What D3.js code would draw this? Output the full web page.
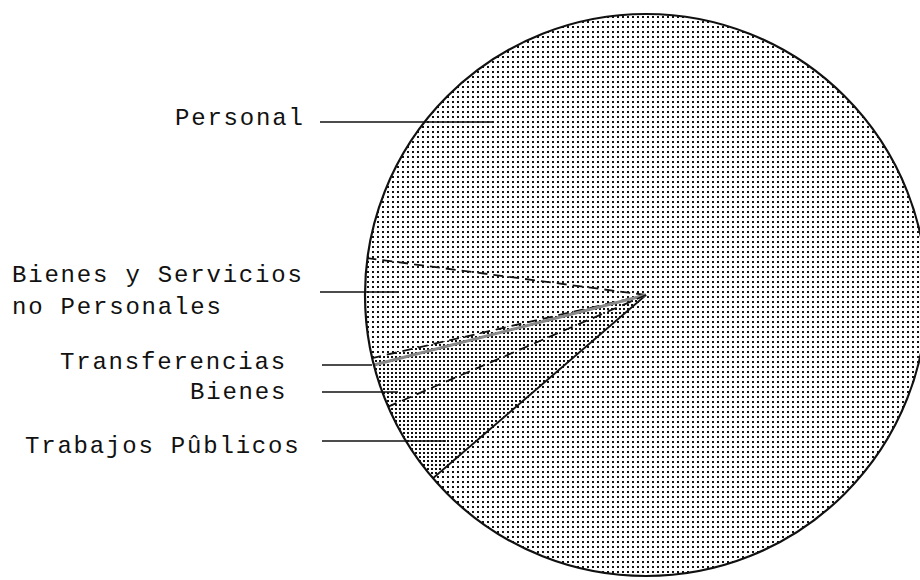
<!DOCTYPE html>
<html>
<head>
<meta charset="utf-8">
<script src="https://cdn.jsdelivr.net/npm/d3@7"></script>
<style>
  body { margin:0; background:#fff; }
  svg { display:block; }
  .lbl { font-family:"Liberation Mono","DejaVu Sans Mono",monospace; font-size:24px; letter-spacing:1.8px; fill:#111; }
</style>
</head>
<body>
<svg id="chart" width="920" height="580"></svg>
<script>
// budget shares (percent)
var categories = ["Personal", "Bienes y Servicios no Personales", "Transferencias", "Bienes", "Trabajos Públicos"];
var values = [86.6, 5.7, 0.4, 2.5, 4.8];
var labelLines = [["Personal"], ["Bienes y Servicios", "no Personales"], ["Transferencias"], ["Bienes"], ["Trabajos Pûblicos"]];

// layout
var cx = 646, cy = 295, R = 281;
var deg = Math.PI / 180;
var fills = ["url(#coarse)", "url(#coarse)", "url(#fine)", "url(#fine)", "url(#fine)"];
// style of the boundary at the start of each slice
var edges = [
  {stroke:"#111", width:1.8, dash:null},
  {stroke:"#111", width:1.8, dash:"10,6"},
  {stroke:"#111", width:1.8, dash:"10,6"},
  {stroke:"#888", width:3, dash:null},
  {stroke:"#111", width:1.8, dash:"10,6"}
];
var labelPos = [
  {x:175, y:[125], ly:122, lx1:320, lx2:493},
  {x:12, y:[282, 314], ly:292, lx1:320, lx2:398},
  {x:60, y:[369], ly:365, lx1:322, lx2:372},
  {x:190, y:[399], ly:392, lx1:322, lx2:398},
  {x:25, y:[453], ly:441, lx1:322, lx2:446}
];

var svg = d3.select("#chart");
var defs = svg.append("defs");

function dots(id, step, size){
  var p = defs.append("pattern").attr("id", id).attr("patternUnits", "userSpaceOnUse")
    .attr("width", step).attr("height", step);
  p.append("rect").attr("width", step).attr("height", step).attr("fill", "#fff");
  p.append("rect").attr("x", 1).attr("y", 1)
    .attr("width", size).attr("height", size).attr("fill", "#111")
    .attr("shape-rendering", "crispEdges");
}
dots("coarse", 5, 2);
dots("fine", 4, 2);

// counter-clockwise from the lower-left edge of Personal
var pie = d3.pie().sort(null).value(function(d){ return d; })
  .startAngle(589.3 * deg).endAngle(229.3 * deg);
var arcs = pie(values);
var arc = d3.arc().innerRadius(0).outerRadius(R);

var g = svg.append("g").attr("transform", "translate(" + cx + "," + cy + ")");

g.selectAll("path.slice").data(arcs).enter().append("path")
  .attr("class", "slice")
  .attr("d", arc)
  .attr("fill", function(d, i){ return fills[i]; })
  .attr("stroke", "none");

g.selectAll("line.edge").data(arcs).enter().append("line")
  .attr("class", "edge")
  .attr("x1", 0).attr("y1", 0)
  .attr("x2", function(d){ return R * Math.sin(d.startAngle); })
  .attr("y2", function(d){ return -R * Math.cos(d.startAngle); })
  .attr("stroke", function(d, i){ return edges[i].stroke; })
  .attr("stroke-width", function(d, i){ return edges[i].width; })
  .attr("stroke-dasharray", function(d, i){ return edges[i].dash; });

g.append("circle").attr("r", R).attr("fill", "none").attr("stroke", "#111").attr("stroke-width", 2.2);

// labels with leader lines
labelLines.forEach(function(lines, i){
  var p = labelPos[i];
  lines.forEach(function(t, k){
    svg.append("text").attr("class", "lbl").attr("x", p.x).attr("y", p.y[k]).text(t);
  });
  svg.append("line").attr("x1", p.lx1).attr("x2", p.lx2).attr("y1", p.ly).attr("y2", p.ly)
    .attr("stroke", "#111").attr("stroke-width", 1.5);
});
</script>
</body>
</html>
